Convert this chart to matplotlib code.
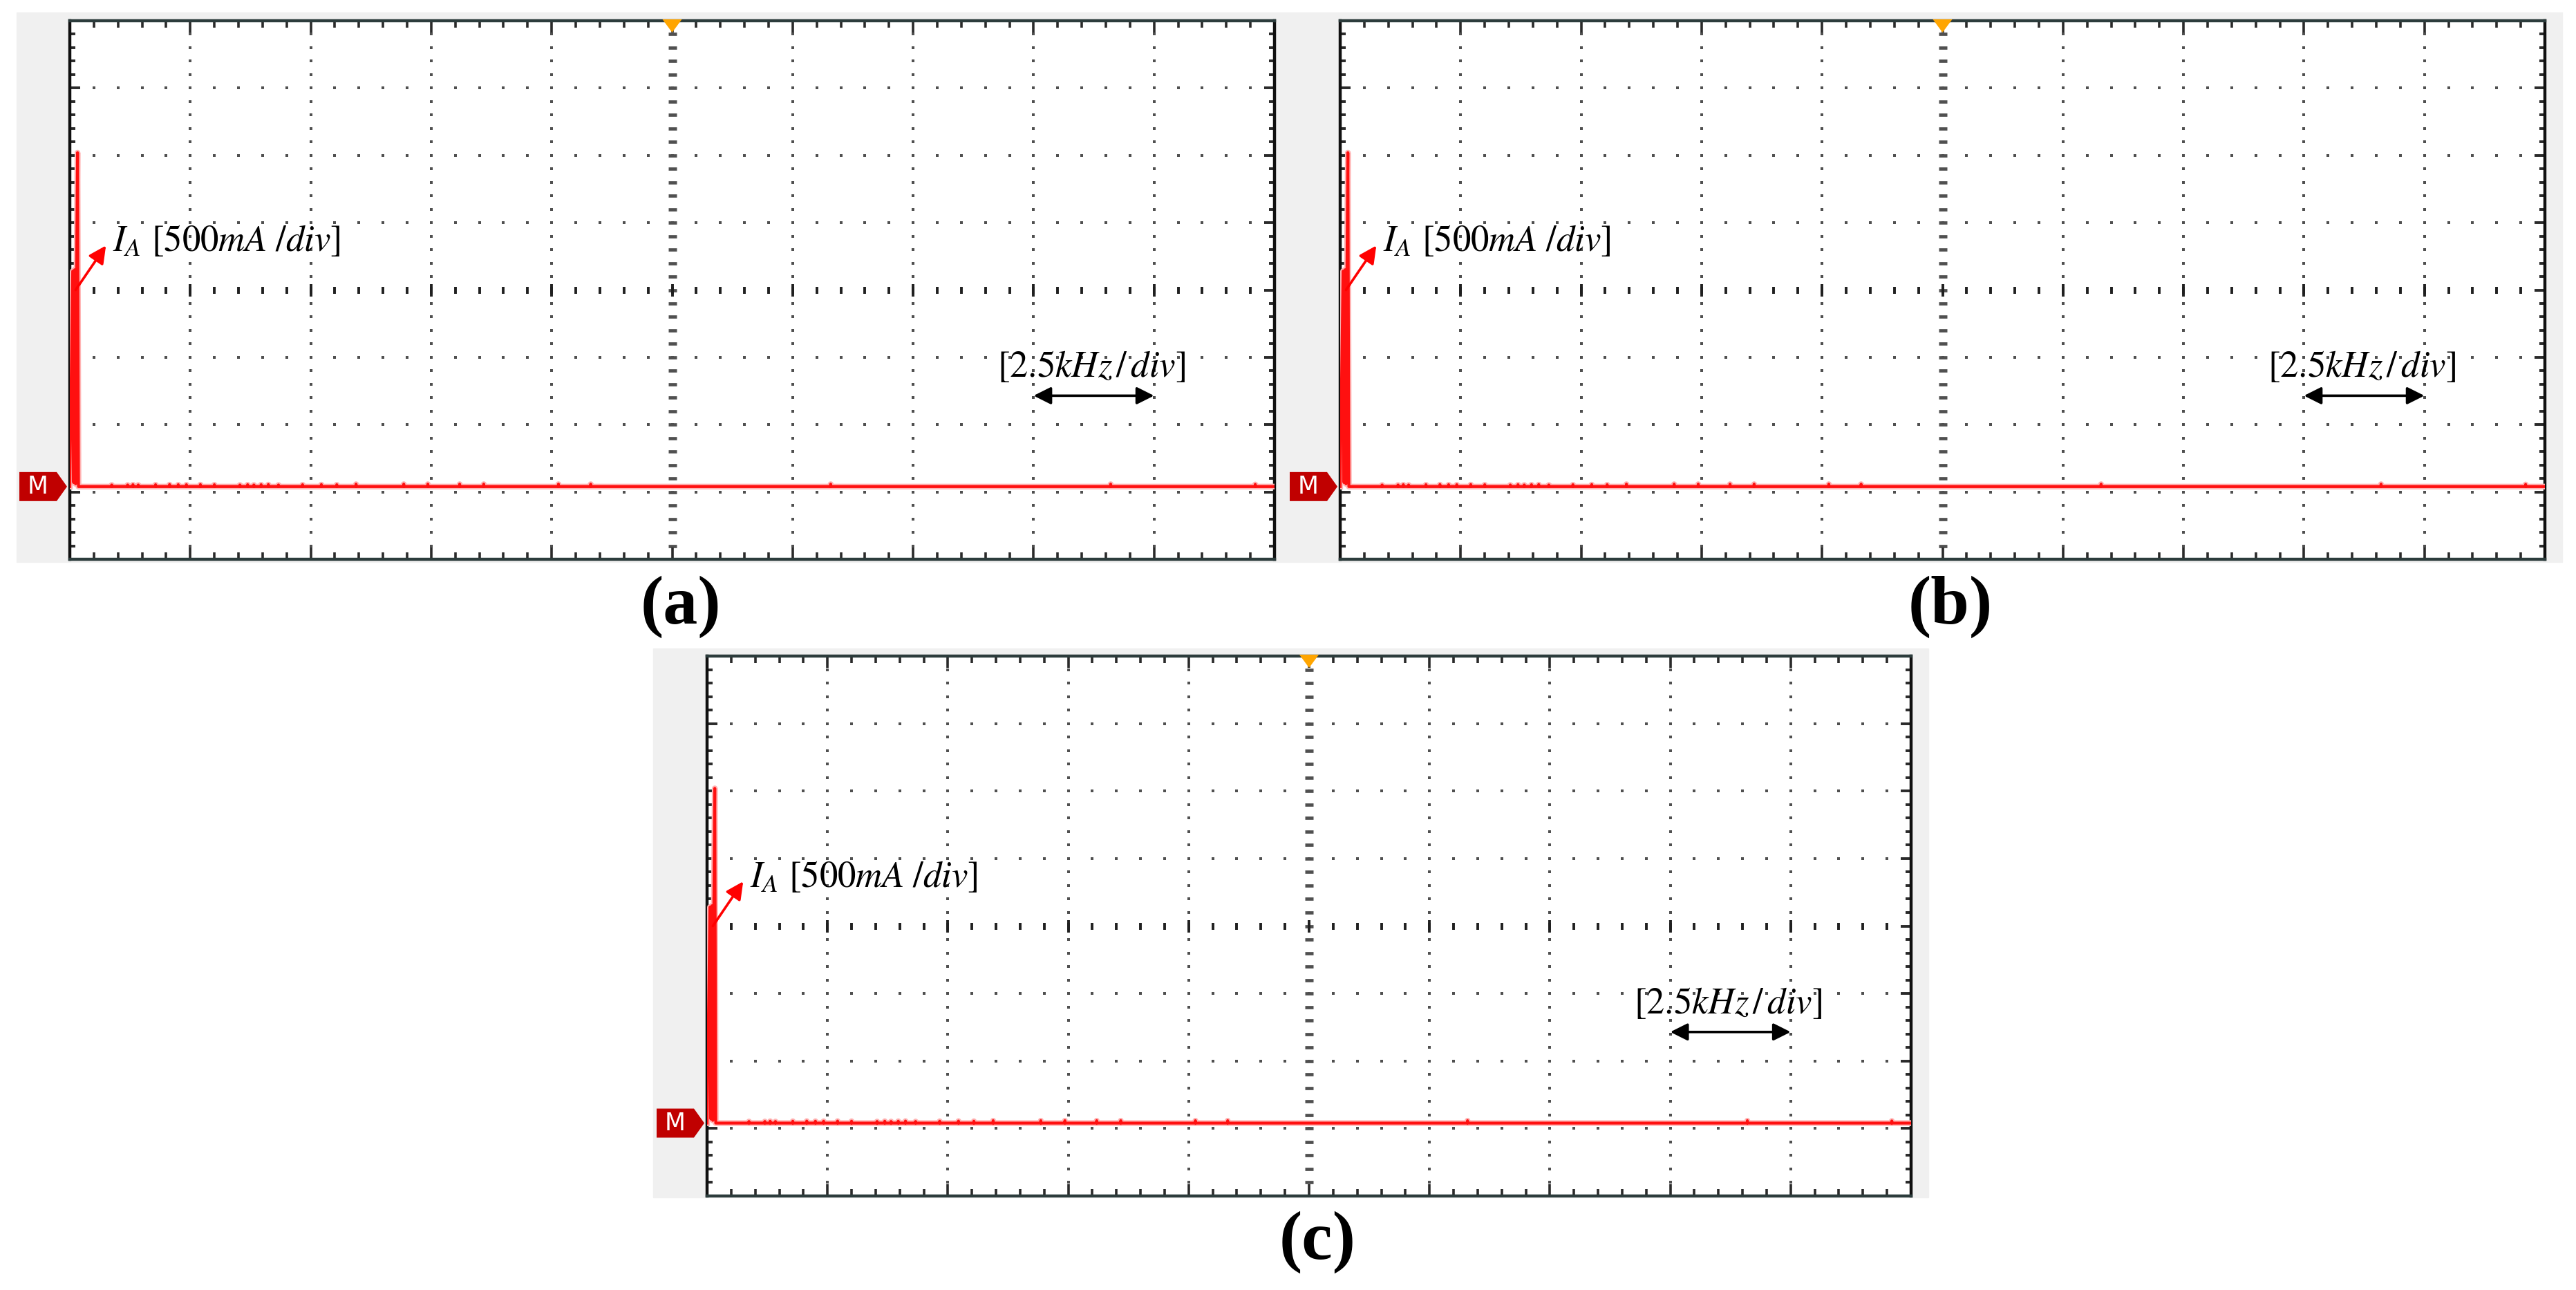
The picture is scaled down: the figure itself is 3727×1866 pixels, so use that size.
import matplotlib
matplotlib.use("Agg")
import matplotlib.pyplot as plt
import matplotlib.transforms as mtransforms
from matplotlib.patches import Rectangle, Polygon
import numpy as np

plt.rcParams['mathtext.fontset'] = 'stix'

W, H = 3727, 1866
DPI = 100

# scope settings
freq_span = 25.0          # kHz, 10 div x 2.5 kHz/div
amp_per_div = 500.0       # mA/div
zero_div_from_top = 6.92  # position of the M (reference) marker

# spectrum of I_A near DC (kHz, mA above reference)
peak_freq = [0.00, 0.06, 0.08, 0.10, 0.12, 0.14, 0.16, 0.18]
peak_amp = [0, 1600, 30, 1610, 20, 1590, 2480, 0]

# small noise bumps along the floor (kHz, mA)
noise_freq = [0.87, 1.20, 1.31, 1.42, 1.78, 2.07, 2.25, 2.42, 2.71, 3.00,
              3.53, 3.69, 3.82, 3.97, 4.12, 4.33, 4.83, 5.22, 5.54, 5.94,
              6.93, 7.43, 8.09, 8.59, 10.14, 10.81, 15.79, 21.60, 24.60]
noise_amp = [12, 12, 14, 12, 14, 15, 14, 14, 15, 14,
             12, 14, 12, 14, 15, 12, 14, 15, 14, 18,
             18, 18, 18, 18, 18, 18, 18, 18, 16]

panel_labels = ["(a)", "(b)", "(c)"]
ia_label = r"$I_A$ [500$mA\ /div$]"
freq_label = r"[2.5$kHz\,/\,div$]"

# layout in pixels: plot box (x0, y0, x1, y1), grey frame, label centre
panels = [
    dict(box=(101, 30, 1844, 809), bg=(24, 18, 1866, 813), lab=(985, 878)),
    dict(box=(1939, 30, 3682, 809), bg=(1866, 18, 3707, 813), lab=(2822, 878)),
    dict(box=(1023, 949, 2765, 1730), bg=(945, 938, 2790, 1732), lab=(1906, 1797)),
]


def fig_rect(x0, y0, x1, y1):
    return [x0 / W, 1 - y1 / H, (x1 - x0) / W, (y1 - y0) / H]


def build_trace():
    fx = list(peak_freq)
    fy = list(peak_amp)
    for f, a in zip(noise_freq, noise_amp):
        fx += [f - 0.006, f, f + 0.006]
        fy += [0, a, 0]
    fx.append(freq_span)
    fy.append(0)
    return np.array(fx), np.array(fy)


fig = plt.figure(figsize=(W / DPI, H / DPI), dpi=DPI)
fig.patch.set_facecolor("white")

trace_x, trace_y = build_trace()
ylo = -(8 - zero_div_from_top) * amp_per_div
yhi = zero_div_from_top * amp_per_div

for p, label in zip(panels, panel_labels):
    bx0, by0, bx1, by1 = p["bg"]
    fig.patches.append(Rectangle((bx0 / W, 1 - by1 / H), (bx1 - bx0) / W, (by1 - by0) / H,
                                 transform=fig.transFigure, color="#f0f0f0", zorder=-5))

    ax = fig.add_axes(fig_rect(*p["box"]))
    ax.set_zorder(1)
    ax.set_facecolor("white")
    ax.set_xlim(0, freq_span)
    ax.set_ylim(ylo, yhi)

    xmaj = np.arange(0, freq_span + 0.01, 2.5)
    xmin = np.arange(0, freq_span + 0.01, 0.5)
    ymaj = ylo + amp_per_div * np.arange(9)
    ymin = ylo + 100 * np.arange(41)
    ax.set_xticks(xmaj)
    ax.set_xticks(xmin, minor=True)
    ax.set_yticks(ymaj)
    ax.set_yticks(ymin, minor=True)
    ax.tick_params(which="both", direction="in", top=True, right=True,
                   labelbottom=False, labelleft=False, color="#2a2a2a")
    ax.tick_params(axis="x", which="major", length=12, width=2.6)
    ax.tick_params(axis="x", which="minor", length=7.5, width=2.6)
    ax.tick_params(axis="y", which="major", length=11, width=2.8)
    ax.tick_params(axis="y", which="minor", length=5.5, width=2.8)
    for side in ["top", "bottom"]:
        ax.spines[side].set_color("#2c3c3c")
        ax.spines[side].set_linewidth(3.2)
    for side in ["left", "right"]:
        ax.spines[side].set_color("#101010")
        ax.spines[side].set_linewidth(3.2)

    # dotted graticule
    inner_y = ymin[1:-1]
    inner_x = xmin[1:-1]
    for gx in xmaj[1:-1]:
        if abs(gx - freq_span / 2) < 1e-6:
            ax.plot(np.full_like(inner_y, gx), inner_y, ls="none", marker="_",
                    ms=8, mew=3.4, color="#505050", zorder=1)
        else:
            ax.plot(np.full_like(inner_y, gx), inner_y, ls="none", marker="s",
                    ms=2.6, mew=0, color="#505050", zorder=1)
    for gy in ymaj[1:-1]:
        if abs(gy - (ylo + 4 * amp_per_div)) < 1e-6:
            ax.plot(inner_x, np.full_like(inner_x, gy), ls="none", marker="|",
                    ms=7.5, mew=2.8, color="#202020", zorder=1)
            ax.plot(xmaj[1:-1], np.full(len(xmaj) - 2, gy), ls="none", marker="|",
                    ms=13, mew=2.8, color="#202020", zorder=1)
        else:
            ax.plot(inner_x, np.full_like(inner_x, gy), ls="none", marker="s",
                    ms=2.6, mew=0, color="#505050", zorder=1)

    # trace
    ax.plot(trace_x, trace_y, color="#ffb4b4", lw=6.0, zorder=3)
    ax.plot(trace_x, trace_y, color="#ff1010", lw=3.0, zorder=4)

    # reference marker M
    blend = mtransforms.blended_transform_factory(ax.transAxes, ax.transData)
    mtrans = fig.dpi_scale_trans + mtransforms.ScaledTranslation(0, 0, blend)
    mx = np.array([-73, -19, -4, -19, -73]) / DPI
    my = np.array([21, 21, 0, -21, -21]) / DPI
    ax.add_patch(Polygon(np.column_stack([mx, my]), closed=True, transform=mtrans,
                         facecolor="#c00000", edgecolor="none", clip_on=False, zorder=5))
    ax.text(-46 / DPI, 0, "M", transform=mtrans, color="white", fontsize=25,
            ha="center", va="center", clip_on=False, zorder=6)

    # trigger marker at top centre
    ttrans = fig.dpi_scale_trans + mtransforms.ScaledTranslation(0.5, 1, ax.transAxes)
    tx = np.array([-14, 14, 0]) / DPI
    ty = np.array([2, 2, -17]) / DPI
    ax.add_patch(Polygon(np.column_stack([tx, ty]), closed=True, transform=ttrans,
                         facecolor="#ffa500", edgecolor="none", clip_on=False, zorder=6))

    # annotations
    ax.annotate("", xy=(0.75, 1790), xytext=(0.12, 1460),
                arrowprops=dict(arrowstyle="-|>", color="red", lw=2.6,
                                mutation_scale=38, shrinkA=0, shrinkB=0), zorder=6)
    ax.text(0.89, 1815, ia_label, fontsize=38, family="STIXGeneral",
            ha="left", va="center", zorder=6)
    ax.annotate("", xy=(22.5, 675), xytext=(20.0, 675),
                arrowprops=dict(arrowstyle="<|-|>", color="black", lw=2.6,
                                mutation_scale=38, shrinkA=0, shrinkB=0), zorder=6)
    ax.text(21.2, 880, freq_label, fontsize=38, family="STIXGeneral",
            ha="center", va="center", zorder=6)

    lx, ly = p["lab"]
    fig.text(lx / W, 1 - ly / H, label, fontsize=72, fontweight="bold",
             family="Liberation Serif", ha="center", va="center")

fig.savefig("out.png", dpi=DPI)
